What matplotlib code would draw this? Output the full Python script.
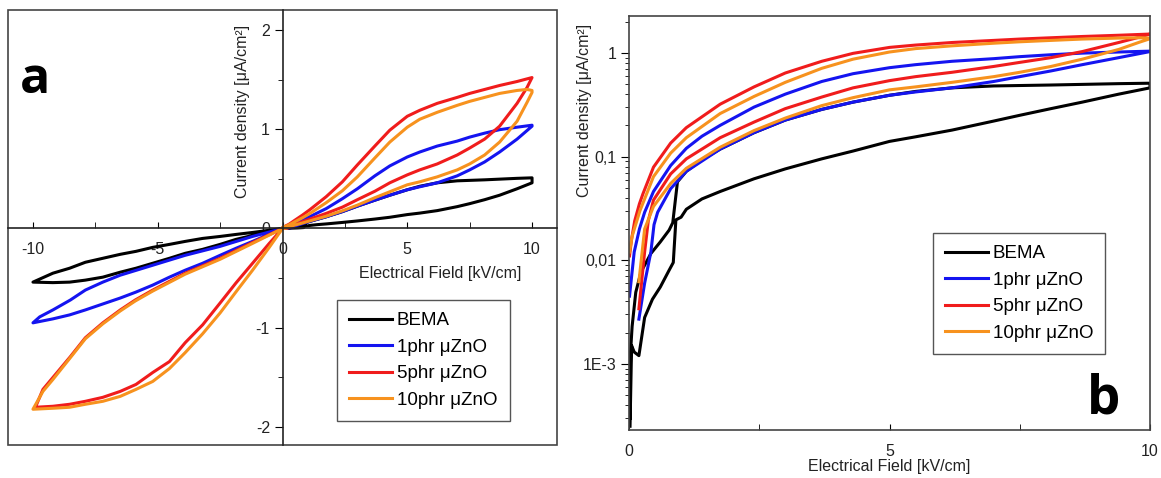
import matplotlib
matplotlib.use('Agg')
import numpy as np
import matplotlib.pyplot as plt
from matplotlib.patches import Rectangle
from matplotlib.ticker import MultipleLocator, LogLocator, NullFormatter

plt.rcParams['font.family'] = ['Liberation Sans', 'DejaVu Sans']
plt.rcParams['axes.unicode_minus'] = False

labels = ['BEMA', '1phr μZnO', '5phr μZnO', '10phr μZnO']
colors = ['#000000', '#1414f0', '#f01c1c', '#f7921e']

# (field kV/cm, current density uA/cm2), positive half, listed by increasing field
bema_pos_lower = [(0.02, 0.00025), (0.05, 0.0015), (0.1, 0.0013), (0.19, 0.0012), (0.3, 0.0028),
                  (0.45, 0.0042), (0.6, 0.0055), (0.77, 0.008), (0.85, 0.0095), (0.9, 0.0245),
                  (1.0, 0.026), (1.1, 0.031), (1.4, 0.039), (1.75, 0.046), (2.4, 0.061),
                  (3.0, 0.076), (3.7, 0.095), (4.3, 0.113), (5.0, 0.14), (5.5, 0.155),
                  (6.2, 0.18), (7.0, 0.22), (7.5, 0.25), (8.1, 0.29), (8.7, 0.335),
                  (9.4, 0.40), (10.0, 0.46)]
bema_pos_upper = [(0.02, 0.0003), (0.03, 0.0013), (0.06, 0.0023), (0.13, 0.0049), (0.23, 0.0077),
                  (0.42, 0.0116), (0.6, 0.015), (0.77, 0.0195), (0.84, 0.023), (0.93, 0.057),
                  (1.1, 0.072), (1.4, 0.093), (1.75, 0.118), (2.4, 0.17), (3.0, 0.225),
                  (3.7, 0.285), (4.3, 0.335), (5.0, 0.39), (5.5, 0.425), (6.2, 0.46),
                  (7.0, 0.48), (8.1, 0.49), (9.4, 0.505), (10.0, 0.51)]

blue_pos_lower = [(0.19, 0.0027), (0.3, 0.006), (0.42, 0.012), (0.48, 0.022), (0.55, 0.029),
                  (0.8, 0.049), (1.1, 0.072), (1.75, 0.118), (2.4, 0.17), (3.0, 0.225),
                  (3.7, 0.285), (4.3, 0.335), (5.0, 0.39), (5.5, 0.42), (6.2, 0.46),
                  (7.0, 0.53), (7.5, 0.59), (8.1, 0.67), (8.7, 0.77), (9.4, 0.90), (10.0, 1.03)]
blue_pos_upper = [(0.01, 0.0045), (0.1, 0.012), (0.2, 0.02), (0.3, 0.029), (0.47, 0.046),
                  (0.8, 0.082), (1.1, 0.12), (1.4, 0.157), (1.75, 0.2), (2.4, 0.3),
                  (3.0, 0.4), (3.7, 0.53), (4.3, 0.63), (5.0, 0.72), (5.5, 0.77),
                  (6.2, 0.83), (7.0, 0.88), (7.5, 0.92), (8.1, 0.96), (8.7, 0.995),
                  (9.4, 1.02), (10.0, 1.04)]

red_pos_lower = [(0.19, 0.0034), (0.3, 0.012), (0.37, 0.024), (0.47, 0.038), (0.8, 0.068),
                 (1.1, 0.095), (1.75, 0.152), (2.4, 0.215), (3.0, 0.29), (3.7, 0.375),
                 (4.3, 0.46), (5.0, 0.54), (5.5, 0.59), (6.2, 0.65), (7.0, 0.74),
                 (7.5, 0.81), (8.1, 0.9), (8.7, 1.03), (9.4, 1.26), (9.8, 1.42), (10.0, 1.52)]
red_pos_upper = [(0.01, 0.011), (0.05, 0.016), (0.11, 0.024), (0.2, 0.035), (0.27, 0.044),
                 (0.47, 0.079), (0.8, 0.135), (1.1, 0.19), (1.75, 0.32), (2.4, 0.47),
                 (3.0, 0.64), (3.7, 0.83), (4.3, 0.99), (5.0, 1.13), (5.5, 1.19),
                 (6.2, 1.26), (7.0, 1.32), (7.5, 1.36), (8.1, 1.40), (8.7, 1.44),
                 (9.4, 1.48), (10.0, 1.52)]

orange_pos_lower = [(0.19, 0.0062), (0.3, 0.02), (0.47, 0.033), (0.8, 0.055), (1.1, 0.077),
                    (1.75, 0.123), (2.4, 0.178), (3.0, 0.235), (3.7, 0.31), (4.3, 0.37),
                    (5.0, 0.44), (5.5, 0.47), (6.2, 0.52), (7.0, 0.59), (7.5, 0.65),
                    (8.1, 0.74), (8.7, 0.87), (9.4, 1.08), (9.8, 1.27), (10.0, 1.37)]
orange_pos_upper = [(0.01, 0.012), (0.06, 0.017), (0.21, 0.03), (0.47, 0.064), (0.8, 0.108),
                    (1.1, 0.152), (1.75, 0.26), (2.4, 0.38), (3.0, 0.52), (3.7, 0.71),
                    (4.3, 0.87), (5.0, 1.02), (5.5, 1.1), (6.2, 1.17), (7.0, 1.24),
                    (7.5, 1.28), (8.1, 1.32), (8.7, 1.36), (9.4, 1.39), (9.8, 1.40), (10.0, 1.39)]

# negative half, listed from the origin outwards
bema_neg_inner = [(-1.2, -0.04), (-1.87, -0.06), (-2.5, -0.08), (-3.2, -0.10), (-3.9, -0.13),
                  (-4.53, -0.16), (-5.2, -0.19), (-5.87, -0.23), (-6.5, -0.26), (-7.2, -0.30),
                  (-7.9, -0.34), (-8.53, -0.40), (-9.2, -0.45), (-10.0, -0.54)]
bema_neg_outer = [(-1.2, -0.07), (-1.87, -0.11), (-2.5, -0.16), (-3.2, -0.21), (-3.9, -0.25),
                  (-4.53, -0.30), (-5.2, -0.35), (-5.87, -0.40), (-6.5, -0.44), (-7.2, -0.49),
                  (-7.9, -0.52), (-8.53, -0.54), (-9.2, -0.545), (-10.0, -0.54)]
blue_neg_inner = [(-1.2, -0.08), (-2.5, -0.18), (-3.9, -0.27), (-5.2, -0.37), (-6.5, -0.47),
                  (-7.2, -0.54), (-7.9, -0.62), (-8.5, -0.72), (-9.2, -0.82), (-9.73, -0.89),
                  (-10.0, -0.95)]
blue_neg_outer = [(-1.2, -0.13), (-1.87, -0.20), (-2.5, -0.27), (-3.2, -0.35), (-3.9, -0.42),
                  (-4.53, -0.49), (-5.2, -0.57), (-5.87, -0.64), (-6.5, -0.70), (-7.2, -0.76),
                  (-7.9, -0.82), (-8.53, -0.87), (-9.2, -0.91), (-10.0, -0.95)]
red_neg_inner = [(-1.2, -0.14), (-2.5, -0.30), (-3.9, -0.45), (-5.2, -0.62), (-5.9, -0.72),
                 (-6.5, -0.82), (-7.2, -0.95), (-7.9, -1.10), (-8.5, -1.29), (-9.2, -1.50),
                 (-9.6, -1.62), (-9.9, -1.80)]
red_neg_outer = [(-0.53, -0.15), (-1.2, -0.35), (-1.87, -0.55), (-2.5, -0.75), (-3.2, -0.97),
                 (-3.9, -1.15), (-4.53, -1.34), (-5.2, -1.45), (-5.87, -1.57), (-6.5, -1.64),
                 (-7.2, -1.70), (-7.9, -1.74), (-8.53, -1.77), (-9.2, -1.79), (-9.9, -1.80)]
orange_neg_inner = [(-1.2, -0.15), (-2.5, -0.31), (-3.9, -0.46), (-5.2, -0.63), (-5.9, -0.73),
                    (-6.5, -0.83), (-7.2, -0.96), (-7.9, -1.11), (-8.5, -1.30), (-9.2, -1.52),
                    (-9.6, -1.64), (-10.0, -1.82)]
orange_neg_outer = [(-0.53, -0.19), (-1.2, -0.42), (-1.87, -0.64), (-2.5, -0.85), (-3.2, -1.06),
                    (-3.9, -1.25), (-4.53, -1.41), (-5.2, -1.54), (-5.87, -1.62), (-6.5, -1.69),
                    (-7.2, -1.74), (-7.9, -1.77), (-8.53, -1.80), (-9.2, -1.81), (-10.0, -1.82)]

pos_lower = [bema_pos_lower, blue_pos_lower, red_pos_lower, orange_pos_lower]
pos_upper = [bema_pos_upper, blue_pos_upper, red_pos_upper, orange_pos_upper]
neg_inner = [bema_neg_inner, blue_neg_inner, red_neg_inner, orange_neg_inner]
neg_outer = [bema_neg_outer, blue_neg_outer, red_neg_outer, orange_neg_outer]


def xy(points):
    return [p[0] for p in points], [p[1] for p in points]


W, H = 1161, 478
fig = plt.figure(figsize=(W / 100, H / 100), dpi=100)
ax1 = fig.add_axes([8 / W, 1 - 445 / H, 549 / W, 435 / H])
ax2 = fig.add_axes([629 / W, 1 - 430 / H, 521 / W, 414 / H])

frame_col = '#444444'
txt_col = '#222222'
fs = 11.5

for i in range(4):
    # full loop through the origin for the linear plot
    loop = ([(0, 0)] + pos_lower[i] + pos_upper[i][::-1] + [(0, 0)]
            + neg_inner[i] + neg_outer[i][::-1] + [(0, 0)])
    x, y = xy(loop)
    ax1.plot(x, y, color=colors[i], lw=2.2, label=labels[i], solid_joinstyle='round')
    # positive half only on the log plot
    x, y = xy(pos_lower[i] + pos_upper[i][::-1])
    ax2.plot(x, y, color=colors[i], lw=2.2, label=labels[i], solid_joinstyle='round')

leg_kw = dict(loc='upper left', borderaxespad=0, fontsize=13.5, handlelength=2.3,
              handletextpad=0.25, labelspacing=0.5, borderpad=0.65, fancybox=False,
              framealpha=1, edgecolor='#555555')

# --- a: linear, axes crossing at the origin
ax1.set_xlim(-11, 11)
ax1.set_ylim(-2.18, 2.2)
for side in ['top', 'right']:
    ax1.spines[side].set_visible(False)
ax1.spines['left'].set_position(('data', 0))
ax1.spines['bottom'].set_position(('data', 0))
for side in ['left', 'bottom']:
    ax1.spines[side].set_color('#222222')
    ax1.spines[side].set_linewidth(1.2)
ax1.add_patch(Rectangle((0, 0), 1, 1, transform=ax1.transAxes, fill=False,
                        ec=frame_col, lw=1.2, clip_on=False))
ax1.xaxis.set_major_locator(MultipleLocator(5))
ax1.xaxis.set_minor_locator(MultipleLocator(2.5))
ax1.yaxis.set_major_locator(MultipleLocator(1))
ax1.yaxis.set_minor_locator(MultipleLocator(0.5))
ax1.tick_params(axis='x', which='both', direction='in', length=4, pad=10,
                labelsize=fs, labelcolor=txt_col)
ax1.tick_params(axis='y', which='major', direction='out', length=6, pad=3,
                labelsize=fs, labelcolor=txt_col)
ax1.tick_params(axis='y', which='minor', direction='out', length=3.5)
ax1.text(0.428, 0.766, 'Current density [μA/cm²]', rotation=90, ha='center', va='center',
         transform=ax1.transAxes, fontsize=fs, color=txt_col)
ax1.text(0.787, 0.394, 'Electrical Field [kV/cm]', ha='center', va='center',
         transform=ax1.transAxes, fontsize=fs, color=txt_col)
ax1.text(0.049, 0.809, 'a', transform=ax1.transAxes, ha='center', va='baseline',
         fontsize=36, fontweight='bold', family='Open Sans')
ax1.legend(bbox_to_anchor=(0.599, 0.333), **leg_kw)

# --- b: log scale, positive field
ax2.set_yscale('log')
ax2.set_xlim(0, 10)
ax2.set_ylim(2.3e-4, 2.27)
for side in ax2.spines:
    ax2.spines[side].set_color(frame_col)
    ax2.spines[side].set_linewidth(1.2)
ax2.set_yticks([1e-3, 1e-2, 1e-1, 1], labels=['1E-3', '0,01', '0,1', '1'])
ax2.yaxis.set_minor_locator(LogLocator(base=10, subs=np.arange(2, 10)))
ax2.yaxis.set_minor_formatter(NullFormatter())
ax2.xaxis.set_major_locator(MultipleLocator(5))
ax2.xaxis.set_minor_locator(MultipleLocator(2.5))
ax2.tick_params(axis='x', which='both', direction='in', length=4, pad=10,
                labelsize=fs, labelcolor=txt_col)
ax2.tick_params(axis='y', which='major', direction='out', length=6, pad=3,
                labelsize=fs, labelcolor=txt_col)
ax2.tick_params(axis='y', which='minor', direction='out', length=3)
ax2.set_xlabel('Electrical Field [kV/cm]', fontsize=fs, color=txt_col, labelpad=0)
ax2.text(-0.086, 0.773, 'Current density [μA/cm²]', rotation=90, ha='center', va='center',
         transform=ax2.transAxes, fontsize=fs, color=txt_col)
ax2.text(0.91, 0.041, 'b', transform=ax2.transAxes, ha='center', va='baseline',
         fontsize=38, fontweight='bold', family='Open Sans')
ax2.legend(bbox_to_anchor=(0.583, 0.476), **leg_kw)

fig.savefig('out.png', dpi=100)
